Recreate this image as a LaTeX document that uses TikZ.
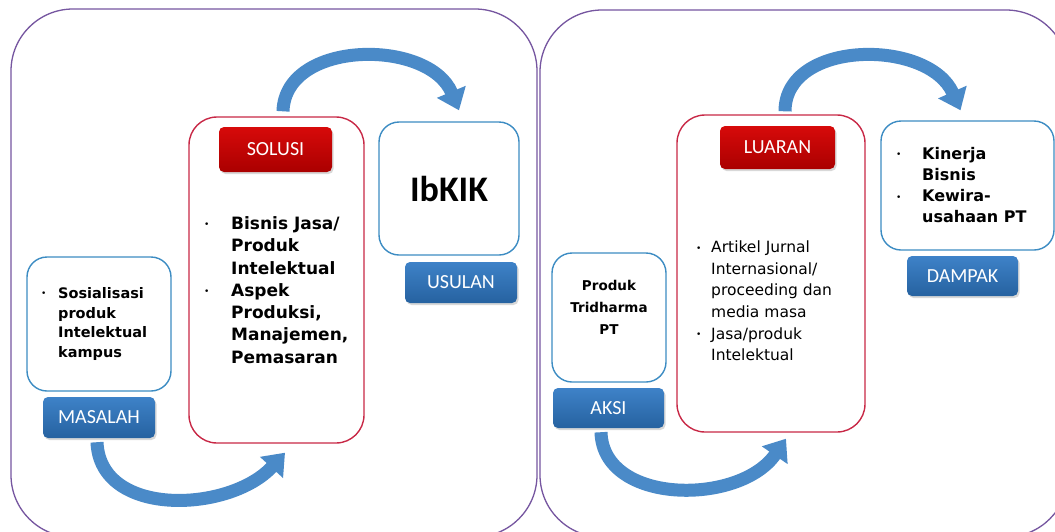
\documentclass[tikz,border=0pt]{standalone}
\usepackage{fontspec}
\setmainfont{DejaVu Sans}
\newfontfamily\labelfont{Carlito}
\usepackage{tikz}
\usetikzlibrary{arrows.meta,shadows,calc}

\definecolor{panelline}{RGB}{118,86,160}
\definecolor{boxblue}{RGB}{60,140,195}
\definecolor{boxred}{RGB}{200,40,70}
\definecolor{tagbluetop}{RGB}{62,130,200}
\definecolor{tagbluebot}{RGB}{38,98,160}
\definecolor{tagredtop}{RGB}{215,10,10}
\definecolor{tagredbot}{RGB}{170,0,0}
\definecolor{arrowblue}{RGB}{74,138,200}

\newcommand{\itemdot}[1]{\makebox[#1][l]{\raisebox{1.5pt}{\small\mdseries\textbullet}}}

\begin{document}
\begin{tikzpicture}[x=1pt,y=-1pt,
  panel/.style={draw=panelline,line width=1.3pt,rounded corners=62pt},
  bluebox/.style={draw=boxblue,line width=1.4pt,rounded corners=20pt,fill=white,inner sep=0pt},
  redbox/.style={draw=boxred,line width=1.4pt,rounded corners=28pt,fill=white,inner sep=0pt},
  tag/.style={rounded corners=5pt,inner sep=0pt,text=white,
    font=\labelfont\fontsize{20}{24}\selectfont,
    drop shadow={shadow xshift=1.5pt,shadow yshift=-2pt,opacity=0.3}},
  bluetag/.style={tag,top color=tagbluetop,bottom color=tagbluebot},
  redtag/.style={tag,top color=tagredtop,bottom color=tagredbot},
  bullets/.style={anchor=west,inner sep=0pt,align=left},
  flow/.style={draw=arrowblue,line width=13pt,-{Triangle[width=30pt,length=20pt]}}]
\useasboundingbox (0,0) rectangle (1055,531);
\clip (0,0) rectangle (1055,531);
\fill[white] (0,0) rectangle (1055,531);

% the two panels
\draw[panel] (11,9) rectangle (537,537);
\draw[panel] (540,10) rectangle (1068,537);

% left panel
\node (masalahbox) [bluebox,minimum width=144pt,minimum height=134pt] at (99,324) {};
\node (masalahtext) [bullets,font=\bfseries\fontsize{14.5}{19.7}\selectfont] at (41,324)
  {\itemdot{17pt}Sosialisasi\\ \hspace*{17pt}produk\\ \hspace*{17pt}Intelektual\\ \hspace*{17pt}kampus};
\node (masalah) [bluetag,minimum width=112pt,minimum height=41pt] at (99,417.5) {MASALAH};

\node (solusibox) [redbox,minimum width=175pt,minimum height=326pt] at (276.5,280) {};
\node (solusi) [redtag,minimum width=113pt,minimum height=45pt] at (275.5,149.5) {SOLUSI};
\node (solusitext) [bullets,font=\bfseries\fontsize{17}{22.3}\selectfont] at (204,290)
  {\itemdot{27pt}Bisnis Jasa/\\ \hspace*{27pt}Produk\\ \hspace*{27pt}Intelektual\\
   \itemdot{27pt}Aspek\\ \hspace*{27pt}Produksi,\\ \hspace*{27pt}Manajemen,\\ \hspace*{27pt}Pemasaran};

\node (ibkik) [bluebox,minimum width=140pt,minimum height=133pt,
  font=\labelfont\bfseries\fontsize{36}{40}\selectfont] at (449,188.5) {IbKIK};
\node (usulan) [bluetag,minimum width=112pt,minimum height=41pt] at (461,282.5) {USULAN};

% right panel
\node (produkbox) [bluebox,minimum width=114pt,minimum height=129pt] at (609,317.5) {};
\node (produktext) [inner sep=0pt,align=center,font=\bfseries\fontsize{13.5}{22}\selectfont]
  at (609,307) {Produk\\Tridharma\\PT};
\node (aksi) [bluetag,minimum width=111pt,minimum height=40pt] at (608.5,408) {AKSI};

\node (luaranbox) [redbox,minimum width=188pt,minimum height=317pt] at (771,273.5) {};
\node (luaran) [redtag,minimum width=115pt,minimum height=43pt] at (777.5,147.5) {LUARAN};
\node (luarantext) [bullets,font=\fontsize{15.5}{21.6}\selectfont] at (696,301)
  {\itemdot{15pt}Artikel Jurnal\\ \hspace*{15pt}Internasional/\\ \hspace*{15pt}proceeding dan\\
   \hspace*{15pt}media masa\\ \itemdot{15pt}Jasa/produk\\ \hspace*{15pt}Intelektual};

\node (dampakbox) [bluebox,minimum width=173pt,minimum height=129pt] at (967.5,185.5) {};
\node (dampaktext) [bullets,font=\bfseries\fontsize{16}{21.3}\selectfont] at (896,185)
  {\itemdot{26pt}Kinerja\\ \hspace*{26pt}Bisnis\\ \itemdot{26pt}Kewira-\\ \hspace*{26pt}usahaan PT};
\node (dampak) [bluetag,minimum width=111pt,minimum height=40pt] at (962.5,276) {DAMPAK};

% curved arrows
\draw[flow] ($(masalah.south)+(-2,4)$) .. controls +(3,76) and +(-55,60) .. ($(solusibox.south)+(8.5,9)$);
\draw[flow] ($(solusibox.north)+(6.5,-5)$) .. controls +(2,-72) and +(-30,-72) .. ($(ibkik.north)+(10,-11)$);
\draw[flow] ($(aksi.south)+(-7.5,4)$) .. controls +(2,73) and +(-46,67) .. ($(luaranbox.south)+(15,6)$);
\draw[flow] ($(luaranbox.north)+(14,-3)$) .. controls +(0,-72) and +(-32,-72) .. ($(dampakbox.north)+(-7,-10)$);
\end{tikzpicture}
\end{document}
